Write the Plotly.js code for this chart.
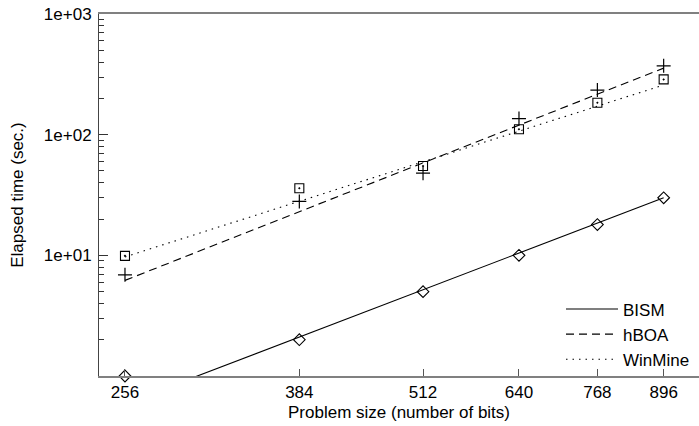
<!DOCTYPE html>
<html>
<head>
<meta charset="utf-8">
<script src="https://cdn.plot.ly/plotly-3.0.1.min.js"></script>
<style>html,body{margin:0;padding:0;background:#fff;}</style>
</head>
<body>
<div id="chart" style="width:699px;height:426px;"></div>
<script>
// Problem sizes (bits)
var sizes = [256, 384, 512, 640, 768, 896];
// Measured elapsed time (sec.)
var bismTimes = [1.0, 2.0, 5.0, 10.0, 18.0, 30.0];
var hboaTimes = [6.9, 28.0, 48.0, 136.0, 234.0, 372.0];
var winmineTimes = [9.9, 36.0, 55.0, 111.0, 184.0, 287.0];
// Fitted trend lines (end points)
var fitX = [256, 896];
var bismFit = [0.59, 30.0];
var hboaFit = [6.2, 356.0];
var winmineFit = [9.7, 258.0];
// Axis ticks
var xTickVals = [256, 384, 512, 640, 768, 896];
var xTickText = ['256', '384', '512', '640', '768', '896'];
var yTickVals = [10, 100, 1000];
var yTickText = ['1e+01', '1e+02', '1e+03'];
var yMinorVals = [];
[1, 10, 100].forEach(function (d) { for (var k = 2; k <= 9; k++) yMinorVals.push(d * k); });

var FONT = 'Liberation Sans, Arial, Helvetica, sans-serif';

var traces = [
  {x: fitX, y: bismFit, mode: 'lines', name: 'BISM',
   line: {color: '#000', width: 1.1}},
  {x: fitX, y: hboaFit, mode: 'lines', name: 'hBOA',
   line: {color: '#000', width: 1.1, dash: '8px,5px'}},
  {x: fitX, y: winmineFit, mode: 'lines', name: 'WinMine',
   line: {color: '#000', width: 1.1, dash: '1.5px,5px'}},
  {x: sizes, y: bismTimes, mode: 'markers', showlegend: false, cliponaxis: false,
   marker: {symbol: 'diamond-open', size: 9, color: '#000', line: {width: 1.1, color: '#000'}}},
  {x: sizes, y: hboaTimes, mode: 'markers', showlegend: false, cliponaxis: false,
   marker: {symbol: 'cross-thin-open', size: 10, color: '#000', line: {width: 1.2, color: '#000'}}},
  {x: sizes, y: winmineTimes, mode: 'markers', showlegend: false, cliponaxis: false,
   marker: {symbol: 'square-open-dot', size: 9, color: '#000', line: {width: 1.1, color: '#000'}}}
];

var layout = {
  width: 699, height: 426,
  margin: {l: 99, r: 0, t: 14, b: 50, pad: 0},
  paper_bgcolor: '#fff', plot_bgcolor: '#fff',
  font: {family: FONT, color: '#000', size: 17},
  showlegend: true,
  legend: {
    x: 0.77, xanchor: 'left', y: -0.004, yanchor: 'bottom',
    bgcolor: 'rgba(0,0,0,0)', borderwidth: 0,
    font: {family: FONT, size: 17, color: '#000'},
    itemwidth: 52, tracegroupgap: 0
  },
  xaxis: {
    type: 'log', range: [2.382, 2.988],
    tickmode: 'array', tickvals: xTickVals, ticktext: xTickText,
    ticks: 'inside', ticklen: 7, tickcolor: '#555', tickwidth: 1,
    showgrid: false, zeroline: false,
    showline: true, linecolor: '#808080', linewidth: 2, mirror: true,
    tickfont: {family: FONT, size: 17, color: '#000'},
    title: {text: 'Problem size (number of bits)', font: {family: FONT, size: 17, color: '#000'}, standoff: 5}
  },
  yaxis: {
    type: 'log', range: [0, 3],
    tickmode: 'array', tickvals: yTickVals, ticktext: yTickText,
    ticks: 'inside', ticklen: 9, tickcolor: '#333', tickwidth: 1,
    minor: {tickmode: 'array', tickvals: yMinorVals, ticks: 'inside', ticklen: 5, tickcolor: '#333', tickwidth: 1, showgrid: false},
    showgrid: false, zeroline: false,
    showline: true, linecolor: '#444', linewidth: 1,
    tickfont: {family: FONT, size: 17, color: '#000'},
    ticklabelstandoff: 3,
    title: {text: 'Elapsed time (sec.)', font: {family: FONT, size: 17, color: '#000'}, standoff: 15}
  }
};

Plotly.newPlot('chart', traces, layout, {displayModeBar: false, staticPlot: true});
</script>
</body>
</html>
